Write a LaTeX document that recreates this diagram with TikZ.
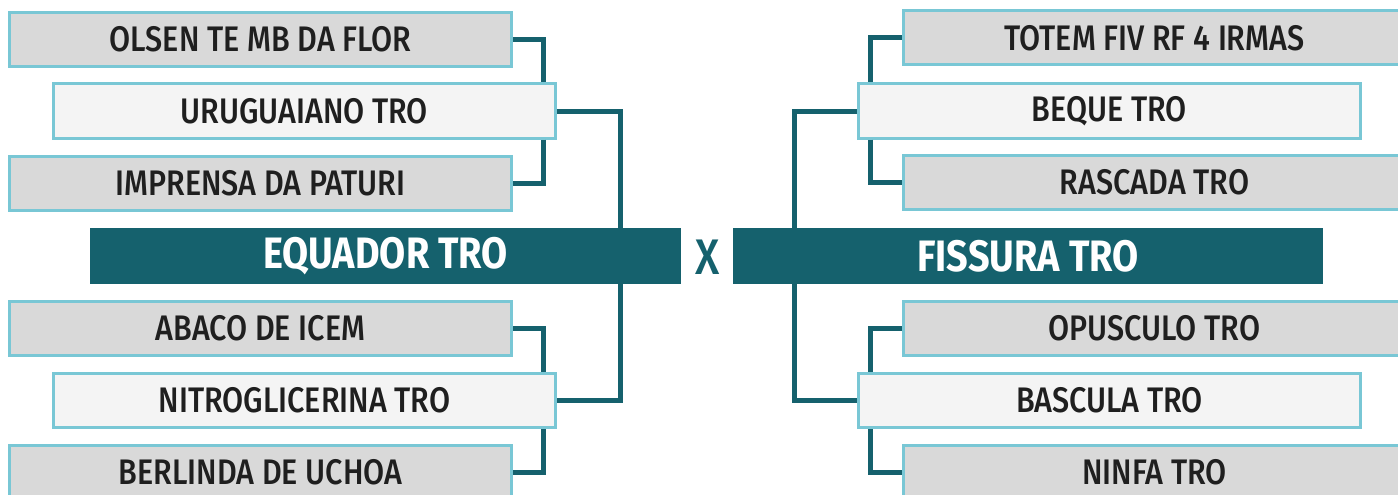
\documentclass[tikz,border=0pt]{standalone}
\usepackage{fontspec}
\setmainfont{Fira Sans}
\newfontfamily\boxfont{Fira Sans}[UprightFont={* Medium},BoldFont={* Bold},FakeStretch=0.86]
\usetikzlibrary{positioning}
\definecolor{teal}{RGB}{21,97,109}
\definecolor{edge}{RGB}{121,199,213}
\definecolor{greybox}{RGB}{217,217,217}
\definecolor{paperbox}{RGB}{244,244,244}
\definecolor{ink}{RGB}{31,31,31}
\tikzset{
  team/.style={draw=edge,line width=3pt,fill=greybox,text=ink,minimum width=502pt,minimum height=54pt,inner sep=0pt,font=\boxfont\fontsize{35.5}{35.5}\selectfont},
  winner/.style={team,fill=paperbox},
  finalist/.style={fill=teal,text=white,minimum width=591pt,minimum height=56pt,inner sep=0pt,font=\boxfont\bfseries\fontsize{44}{44}\selectfont},
  link/.style={draw=teal,line width=5pt}
}
\begin{document}
\begin{tikzpicture}[x=1pt,y=-1pt]
\clip (0,0) rectangle (1398,495);
% left half
\node[team] (olsen) at (260.5,39.5) {OLSEN TE MB DA FLOR};
\node[winner] (urug) at (304.5,111) {URUGUAIANO TRO};
\node[team] (impr) at (260.5,183) {IMPRENSA DA PATURI};
\node[team] (abaco) at (260.5,328) {ABACO DE ICEM};
\node[winner] (nitro) at (304.5,400.5) {NITROGLICERINA TRO};
\node[team] (berl) at (260.5,472.5) {BERLINDA DE UCHOA};
\node[finalist] (equador) at (385.5,256) {EQUADOR TRO};
% right half
\node[team] (totem) at (1154.5,38) {TOTEM FIV RF 4 IRMAS};
\node[winner] (beque) at (1109.5,111) {BEQUE TRO};
\node[team] (rasc) at (1154.5,182.5) {RASCADA TRO};
\node[team] (opus) at (1154.5,328) {OPUSCULO TRO};
\node[winner] (basc) at (1109.5,400.5) {BASCULA TRO};
\node[team] (ninfa) at (1154.5,472.5) {NINFA TRO};
\node[finalist,minimum width=590pt] (fissura) at (1028,256) {FISSURA TRO};
\node[text=teal,font=\boxfont\fontsize{50}{50}\selectfont] (versus) at (707.5,257) {X};
% brackets
\draw[link] (olsen.east) -| ([xshift=-14pt]urug.north east);
\draw[link] ([xshift=-14pt]urug.south east) |- (impr.east);
\draw[link] (urug.east) -| ([xshift=-61pt]equador.north east);
\draw[link] ([xshift=-61pt]equador.south east) |- (nitro.east);
\draw[link] (abaco.east) -| ([xshift=-14pt]nitro.north east);
\draw[link] ([xshift=-14pt]nitro.south east) |- (berl.east);
\draw[link] (totem.west) -| ([xshift=13pt]beque.north west);
\draw[link] ([xshift=13pt]beque.south west) |- (rasc.west);
\draw[link] (beque.west) -| ([xshift=62pt]fissura.north west);
\draw[link] ([xshift=62pt]fissura.south west) |- (basc.west);
\draw[link] (opus.west) -| ([xshift=13pt]basc.north west);
\draw[link] ([xshift=13pt]basc.south west) |- (ninfa.west);
\end{tikzpicture}
\end{document}
